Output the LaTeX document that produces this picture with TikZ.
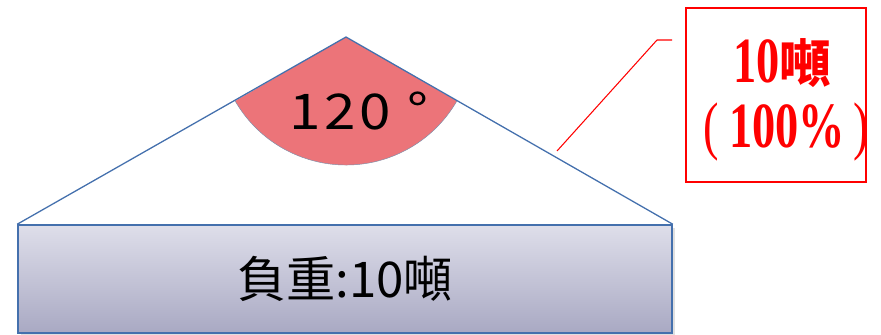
\documentclass[tikz,border=0pt]{standalone}
\usepackage{fontspec}
\newfontfamily\cjksans{Noto Sans CJK TC}
\newfontfamily\anglefont[FakeStretch=1.15]{Noto Sans CJK TC}
\newfontfamily\redserif[FakeStretch=0.72]{Liberation Serif}
\newfontfamily\redcjk{Noto Sans CJK TC}
\definecolor{edgeblue}{HTML}{4470AD}
\definecolor{sectorpink}{HTML}{EC7479}
\definecolor{arcgray}{HTML}{7D90AA}
\definecolor{boxtop}{HTML}{DEDEEA}
\definecolor{boxbottom}{HTML}{A9A9C3}
\tikzset{
  loadbox/.style={draw=edgeblue, line width=1.3pt, top color=boxtop, bottom color=boxbottom,
    minimum width=19.62cm, minimum height=3.24cm, inner sep=0pt, font=\cjksans\fontsize{42}{46}\selectfont},
  tonbox/.style={draw=red, line width=1pt, fill=white, minimum width=5.4cm, minimum height=5.22cm, inner sep=0pt},
  tonline/.style={anchor=base, text=red, inner sep=0pt, font=\redserif\bfseries\fontsize{55}{60}\selectfont}
}
\begin{document}
\begin{tikzpicture}[x=0.03cm, y=0.03cm]
\useasboundingbox (0,0) rectangle (881,334);
%%%%%%%%%%%%%%%%%%%%%%%%%%%%%%% load and slings
\fill[black!35, opacity=0.35] (21,-2) rectangle (675,106);
\node(load)[loadbox] at (345,55){負重:10噸};
\coordinate(apex) at (346,297);
\fill[sectorpink] (apex) -- ++(210:128) arc (210:330:128) -- cycle;
\draw[arcgray, thin] (apex) ++(210:128) arc (210:330:128);
\draw[edgeblue, line width=1.1pt] (load.north west) -- (apex) -- (load.north east);
\node(angle) at (359,223){\anglefont\fontsize{42}{46}\selectfont 1\kern3pt2\kern3pt0\hspace{14pt}°};
%%%%%%%%%%%%%%%%%%%%%%%%%%%%%%% callout
\node(tons)[tonbox] at (776,239){};
\node(tonsA)[tonline] at (782,251){10{\redcjk\bfseries\fontsize{44}{46}\selectfont 噸}};
\node(tonsB)[tonline] at (786,186){{\mdseries(}\hspace{9pt}100\%\hspace{7pt}{\mdseries)}};
\coordinate(tip) at (557,183);
\coordinate(bend) at (657,294);
\coordinate(lead) at (672,294);
\draw[red, line width=0.9pt] (tip) -- (bend) -- (lead);
\end{tikzpicture}
\end{document}
